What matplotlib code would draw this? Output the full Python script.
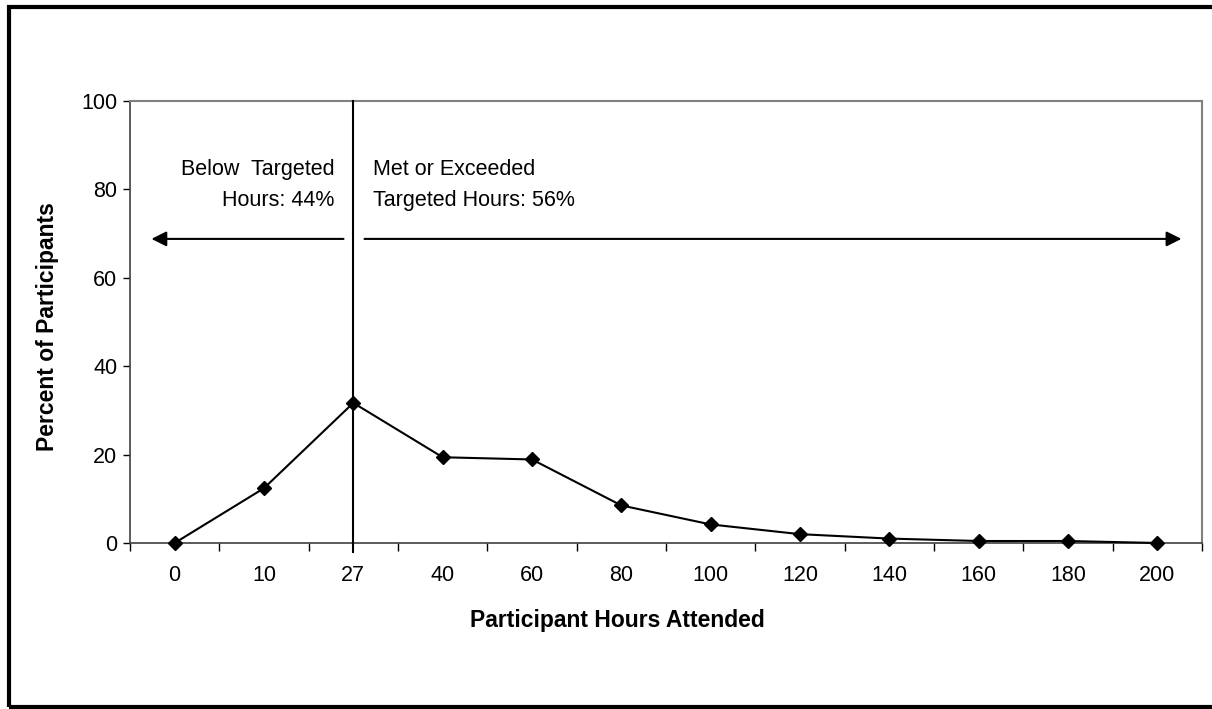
import matplotlib
matplotlib.use("Agg")
import matplotlib.pyplot as plt
from matplotlib.patches import Rectangle

plt.rcParams['font.family'] = ['Liberation Sans', 'DejaVu Sans']

hours = ['0', '10', '27', '40', '60', '80', '100', '120', '140', '160', '180', '200']
percent = [0, 12.4, 31.7, 19.4, 18.9, 8.5, 4.2, 2.0, 1.0, 0.45, 0.45, 0]
target_idx = 2  # 27 hours

fig = plt.figure(figsize=(12.12, 7.09), dpi=100)
ax = fig.add_axes([130 / 1212, 1 - 543 / 709, 1072 / 1212, 442 / 709])

x = list(range(len(hours)))
ax.plot(x, percent, color='black', lw=1.5, marker='D', ms=7.5, zorder=3, clip_on=False)

ax.set_xlim(-0.5, len(hours) - 0.5)
ax.set_ylim(0, 100)
ax.set_yticks([0, 20, 40, 60, 80, 100])
ax.tick_params(axis='y', length=5, width=1, labelsize=15.5, pad=4)

# category boundaries carry the tick marks, labels sit in the middle
ax.set_xticks([i - 0.5 for i in range(len(hours) + 1)])
ax.set_xticklabels([])
ax.set_xticks(x, minor=True)
ax.set_xticklabels(hours, minor=True)
ax.tick_params(axis='x', which='major', length=6, width=1)
ax.tick_params(axis='x', which='minor', length=0, labelsize=15.5, pad=16)

for s in ['top', 'right']:
    ax.spines[s].set_color('#808080')
    ax.spines[s].set_linewidth(1.5)
for s in ['left', 'bottom']:
    ax.spines[s].set_color('#404040')
    ax.spines[s].set_linewidth(1.2)

# target line
ax.plot([target_idx, target_idx], [-2, 100], color='black', lw=1.5, clip_on=False, zorder=4)

# arrows
ax.annotate('', xy=(-0.26, 68.8), xytext=(1.89, 68.8),
            arrowprops=dict(arrowstyle='-|>,head_length=0.9,head_width=0.45', color='black', lw=1.5,
                            shrinkA=0, shrinkB=0))
ax.annotate('', xy=(11.27, 68.8), xytext=(2.125, 68.8),
            arrowprops=dict(arrowstyle='-|>,head_length=0.9,head_width=0.45', color='black', lw=1.5,
                            shrinkA=0, shrinkB=0))

ax.text(1.79, 86.8, 'Below  Targeted\nHours: 44%', ha='right', va='top', fontsize=15.5, linespacing=1.6)
ax.text(2.216, 86.8, 'Met or Exceeded\nTargeted Hours: 56%', ha='left', va='top', fontsize=15.5, linespacing=1.6)

fig.text(617 / 1212, 1 - 620 / 709, 'Participant Hours Attended', ha='center', va='center',
         fontsize=16.5, fontweight='bold')
fig.text(48 / 1212, 1 - 327 / 709, 'Percent of Participants', ha='center', va='center',
         rotation=90, fontsize=16.5, fontweight='bold')

# outer frame
fig.add_artist(Rectangle((9 / 1212, 1 - 707 / 709), 1.05, (707 - 7) / 709, transform=fig.transFigure,
                         fill=False, edgecolor='black', lw=3, clip_on=False))

fig.savefig('out.png', dpi=100)
